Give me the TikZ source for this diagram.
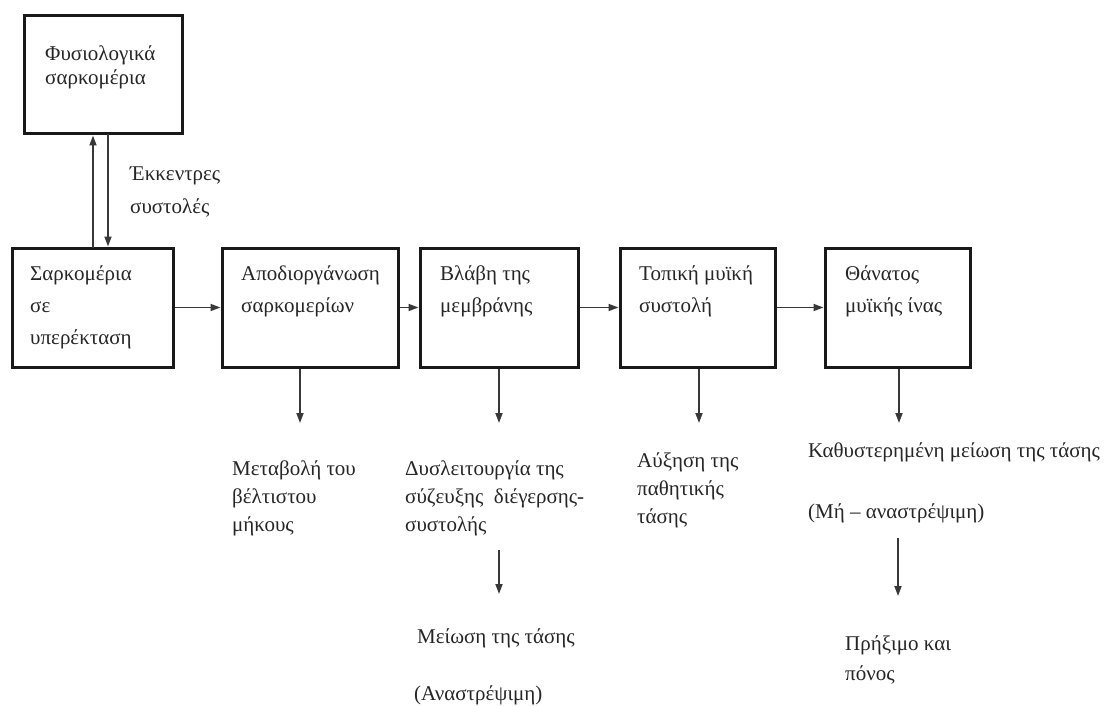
\documentclass[tikz,border=0pt]{standalone}
\usepackage{fontspec}
\setmainfont{Liberation Serif}
\usetikzlibrary{arrows.meta}
\definecolor{txt}{gray}{0.15}
\definecolor{boxline}{gray}{0.1}
\definecolor{arrline}{gray}{0.22}
\tikzset{
  stepbox/.style={draw=boxline, line width=3pt, minimum width=#1, inner sep=0pt, minimum height=119pt},
  lbl/.style={anchor=north west, inner sep=0pt, align=left, text=txt,
    font=\fontsize{21}{#1}\selectfont},
  lbl/.default=28,
  arr/.style={draw=arrline, line width=1.7pt, -{Triangle[length=10pt,width=7pt]}},
}
\begin{document}
\begin{tikzpicture}[x=1pt,y=-1pt]
\useasboundingbox (0,0) rectangle (1109,706);
% boxes
\node[stepbox=158pt, minimum height=118pt] (top) at (103,75) {};
\node[stepbox=161pt] (b1) at (92.5,307.5) {};
\node[stepbox=176pt] (b2) at (310,307.5) {};
\node[stepbox=158pt] (b3) at (499,307.5) {};
\node[stepbox=155pt] (b4) at (697.5,307.5) {};
\node[stepbox=145pt] (b5) at (897.5,307.5) {};
% box texts
\node[lbl=24] (ttop) at (45,45) {Φυσιολογικά\\σαρκομέρια};
\node[lbl=32] (t1) at (30,265) {Σαρκομέρια\\σε\\υπερέκταση};
\node[lbl=32] (t2) at (241,265) {Αποδιοργάνωση\\σαρκομερίων};
\node[lbl=32] (t3) at (440,265) {Βλάβη της\\μεμβράνης};
\node[lbl=32] (t4) at (639,265) {Τοπική μυϊκή\\συστολή};
\node[lbl=32] (t5) at (845,265) {Θάνατος\\μυϊκής ίνας};
% side label
\node[lbl=33] (ecc) at (130,167) {Έκκεντρες\\συστολές};
% lower labels
\node[lbl=28] (l2) at (232,460) {Μεταβολή του\\βέλτιστου\\μήκους};
\node[lbl=28] (l3) at (405,460) {Δυσλειτουργία της\\σύζευξης \ διέγερσης-\\συστολής};
\node[lbl] (l3b) at (417,628) {Μείωση της τάσης};
\node[lbl] (l3c) at (414,685) {(Αναστρέψιμη)};
\node[lbl=28] (l4) at (637,452) {Αύξηση της\\παθητικής\\τάσης};
\node[lbl] (l5) at (808,442) {Καθυστερημένη μείωση της τάσης};
\node[lbl] (l5b) at (808,503) {(Μή – αναστρέψιμη)};
\node[lbl=30] (l5c) at (845,635) {Πρήξιμο και\\πόνος};
% coordinates for free arrow ends
\coordinate (u1) at (93,248);
\coordinate (d1) at (108,134);
\coordinate (e2) at (300,423);
\coordinate (e3) at (499,423);
\coordinate (e4) at (699,423);
\coordinate (e5) at (899,423);
\coordinate (s6) at (499,550);
\coordinate (e6) at (499,594);
\coordinate (s7) at (898,538);
\coordinate (e7) at (898,596);
% connectors
\draw[arr] (u1) -- (top.south -| u1);
\draw[arr] (d1) -- (b1.north -| d1);
\draw[arr] (b1) -- (b2);
\draw[arr] (b2) -- (b3);
\draw[arr] (b3) -- (b4);
\draw[arr] (b4) -- (b5);
\draw[arr] (b2.south -| e2) -- (e2);
\draw[arr] (b3.south -| e3) -- (e3);
\draw[arr] (b4.south -| e4) -- (e4);
\draw[arr] (b5.south -| e5) -- (e5);
\draw[arr] (s6) -- (e6);
\draw[arr] (s7) -- (e7);
\end{tikzpicture}
\end{document}
